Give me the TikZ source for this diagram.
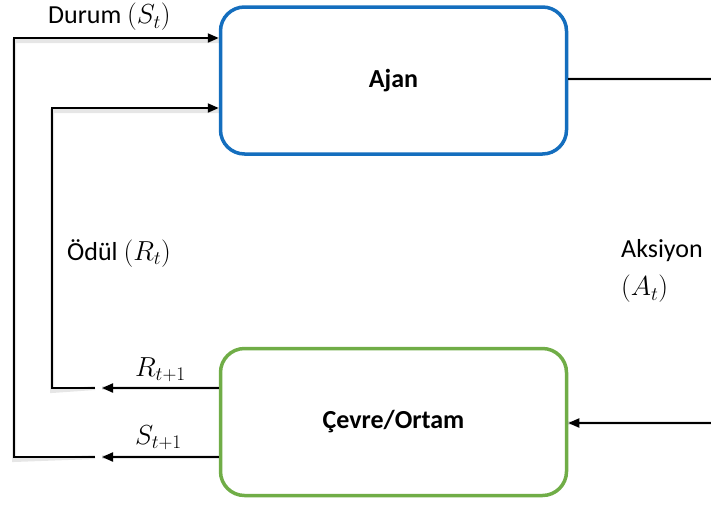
\RequirePackage{fix-cm}
\documentclass[tikz,border=0pt]{standalone}
\usepackage{fontspec}
\setmainfont{Carlito}
\usetikzlibrary{arrows.meta,positioning}
% math set a little larger than the surrounding text
\newcommand{\mth}[1]{{\fontsize{27.5}{32}\selectfont$#1$}}
\begin{document}
\begin{tikzpicture}[x=1pt,y=-1pt,
  every node/.style={font=\fontsize{26}{31}\selectfont},
  box/.style={draw, line width=3.5pt, rounded corners=24pt, fill=white,
    minimum width=346pt, minimum height=147pt, font=\fontsize{26}{31}\selectfont\bfseries},
  flow/.style={line width=2pt, black},
  tip/.style={-{Triangle[length=11pt,width=9pt]}},
  shade/.style={line width=4pt, gray, opacity=0.2},
  lbl/.style={inner sep=0pt}]
\useasboundingbox (0,0) rectangle (711,504);

% boxes
\node[box, draw={rgb,255:red,20;green,110;blue,190}] (ajan) at (393.5,80.5) {Ajan};
\node[box, draw={rgb,255:red,112;green,173;blue,71}] (cevre) at (393.5,422) {Çevre/Ortam};

% free ends and bends
\coordinate (aout) at (711,79);
\coordinate (ain)  at (711,423);
\coordinate (rtip) at (102,388);
\coordinate (rgap) at (95,388);
\coordinate (stip) at (102,457);
\coordinate (sgap) at (95,457);

% soft shadows under the lines
\begin{scope}[yshift=-3pt]
  \draw[shade] (ajan.east |- aout) -- (aout);
  \draw[shade] (ain) -- (cevre.east |- ain);
  \draw[shade] (cevre.west |- rtip) -- (rtip);
  \draw[shade] (cevre.west |- stip) -- (stip);
  \draw[shade] (rgap) -- (52,388) -- (52,108) -- (ajan.west |- 0,108);
  \draw[shade] (sgap) -- (14,457) -- (14,38) -- (ajan.west |- 0,38);
\end{scope}

% action: agent to environment
\draw[flow] (ajan.east |- aout) -- (aout);
\draw[flow, tip] (ain) -- (cevre.east |- ain);

% reward and state from the environment
\draw[flow, tip] (cevre.west |- rtip) -- (rtip);
\draw[flow, tip] (cevre.west |- stip) -- (stip);

% feedback loops back to the agent
\draw[flow, tip] (rgap) -- (52,388) -- (52,108) -- (ajan.west |- 0,108);
\draw[flow, tip] (sgap) -- (14,457) -- (14,38) -- (ajan.west |- 0,38);

% labels
\node[lbl, anchor=west] (durum) at (48,17) {Durum \mth{(S_t)}};
\node[lbl, anchor=west] (odul) at (67,253) {Ödül \mth{(R_t)}};
\node[lbl, anchor=west] (aks) at (621,251) {Aksiyon};
\node[lbl, anchor=west] (akst) at (621,289) {\mth{(A_t)}};
\node[lbl, anchor=west] (r1) at (135,370) {\mth{R_{t+1}}};
\node[lbl, anchor=west] (s1) at (135,438) {\mth{S_{t+1}}};
\end{tikzpicture}
\end{document}
